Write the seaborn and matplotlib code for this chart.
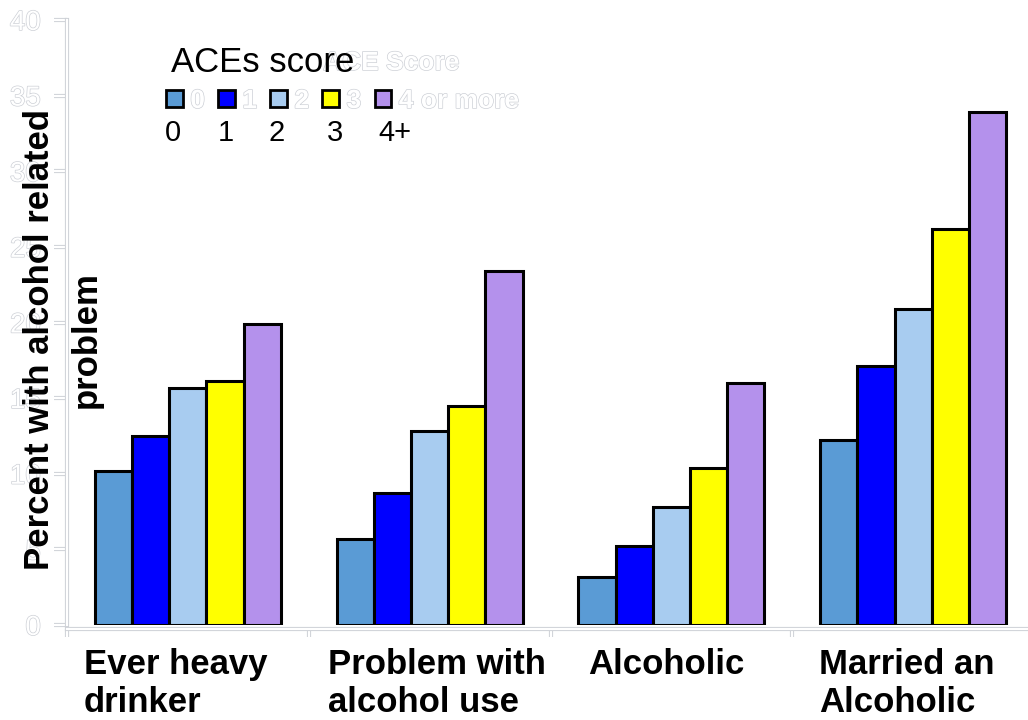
import numpy as np
import pandas as pd
import matplotlib
matplotlib.use("Agg")
import matplotlib.pyplot as plt
import matplotlib.patheffects as pe
from matplotlib.patches import Patch
from matplotlib.transforms import blended_transform_factory
import seaborn as sns

# Outcomes and ACE score groups
outcomes = ["Ever heavy\ndrinker", "Problem with\nalcohol use", "Alcoholic", "Married an\nAlcoholic"]
ace_groups = ["0", "1", "2", "3", "4 or more"]
ace_short = ["0", "1", "2", "3", "4+"]

# Percent with alcohol related problem, one list per ACE group
pct_ace0 = [10.2, 5.7, 3.2, 12.2]
pct_ace1 = [12.5, 8.7, 5.2, 17.1]
pct_ace2 = [15.7, 12.8, 7.8, 20.9]
pct_ace3 = [16.1, 14.5, 10.4, 26.2]
pct_ace4 = [19.9, 23.4, 16.0, 33.9]

y_ticks = [0, 5, 10, 15, 20, 25, 30, 35, 40]

bar_colors = ["#5A9BD5", "#0000FF", "#A8CCF0", "#FFFF00", "#B491EC"]

series = [pct_ace0, pct_ace1, pct_ace2, pct_ace3, pct_ace4]
df = pd.DataFrame(
    [(o, g, v) for g, vals in zip(ace_groups, series) for o, v in zip(outcomes, vals)],
    columns=["outcome", "ace", "percent"],
)

sns.set_style("white")
plt.rcParams["font.family"] = ["Liberation Sans", "DejaVu Sans"]

W, H = 1028, 720
fig = plt.figure(figsize=(W / 100, H / 100), dpi=100)
ax = fig.add_axes([67 / W, 1 - 625 / H, (1034 - 67) / W, (625 - 20) / H])

sns.barplot(
    data=df, x="outcome", y="percent", hue="ace", order=outcomes, hue_order=ace_groups,
    palette=bar_colors, saturation=1, width=0.77, edgecolor="black", linewidth=2.2,
    legend=False, ax=ax,
)

ax.set_xlim(-0.5, 3.5)
ax.set_ylim(0, 40)
ax.set_xlabel("")
ax.set_ylabel("")

outline_col = "#cdd0d6"
text_outline = [pe.Stroke(linewidth=1.0, foreground=outline_col), pe.Normal()]
line_outline = [pe.Stroke(linewidth=3.0, foreground=outline_col), pe.Normal()]

# white axis lines with a thin grey rim
for side in ["top", "right"]:
    ax.spines[side].set_visible(False)
for side in ["left", "bottom"]:
    sp = ax.spines[side]
    sp.set_visible(True)
    sp.set_color("white")
    sp.set_linewidth(1.6)
    sp.set_path_effects(line_outline)
ax.spines["bottom"].set_position(("outward", 3))

ax.set_yticks(y_ticks)
ax.set_yticklabels([str(t) for t in y_ticks])
ax.tick_params(axis="y", length=9.4, width=1.6, color="white", pad=9.4,
               labelsize=20, labelcolor="white", left=True)
ax.set_xticks(np.arange(-0.5, 4.0, 1.0))
ax.set_xticklabels([])
ax.tick_params(axis="x", length=5.5, width=1.6, color="white", bottom=True)

for tk in ax.yaxis.get_major_ticks() + ax.xaxis.get_major_ticks():
    tk.tick1line.set_path_effects(line_outline)
for lbl in ax.get_yticklabels():
    lbl.set_path_effects(text_outline)

# category labels under each group
trans = blended_transform_factory(ax.transData, fig.transFigure)
label_shift = [-0.05, 0.03, -0.02, -0.025]
for i, (name, dx) in enumerate(zip(outcomes, label_shift)):
    ax.text(i + dx, 1 - 648 / H, name, transform=trans, ha="center", va="top",
            ma="left", fontsize=25, fontweight="bold", color="black",
            linespacing=1.2, clip_on=False)

# y-axis title
fig.text(63 / W, 1 - 340 / H, "Percent with alcohol related\nproblem", rotation=90,
         ha="center", va="center", ma="center", fontsize=25, fontweight="bold",
         color="black", linespacing=1.5)

# legend with outlined labels
handles = [Patch(facecolor=c, edgecolor="black", linewidth=2.0) for c in bar_colors]
leg = fig.legend(handles, ace_groups, ncol=5, loc="center left",
                 bbox_to_anchor=(166 / W, 1 - 101 / H), frameon=False,
                 prop={"size": 19, "weight": "bold"}, handlelength=0.64,
                 handleheight=0.64, handletextpad=0.28, columnspacing=0.5,
                 borderpad=0, borderaxespad=0)
for t in leg.get_texts():
    t.set_color("white")
    t.set_path_effects(text_outline)

ace_title = fig.text(323 / W, 1 - 63 / H, "ACE Score", ha="left", va="center",
                     fontsize=19, fontweight="bold", color="white")
ace_title.set_path_effects(text_outline)

fig.text(171 / W, 1 - 63 / H, "ACEs score", ha="left", va="center",
         fontsize=25, color="black", zorder=5)
short_x = [165, 218, 268, 327, 378]
for xp, s in zip(short_x, ace_short):
    fig.text(xp / W, 1 - 133 / H, s, ha="left", va="center", fontsize=21,
             color="black", zorder=5)

fig.savefig("out.png", dpi=100)
